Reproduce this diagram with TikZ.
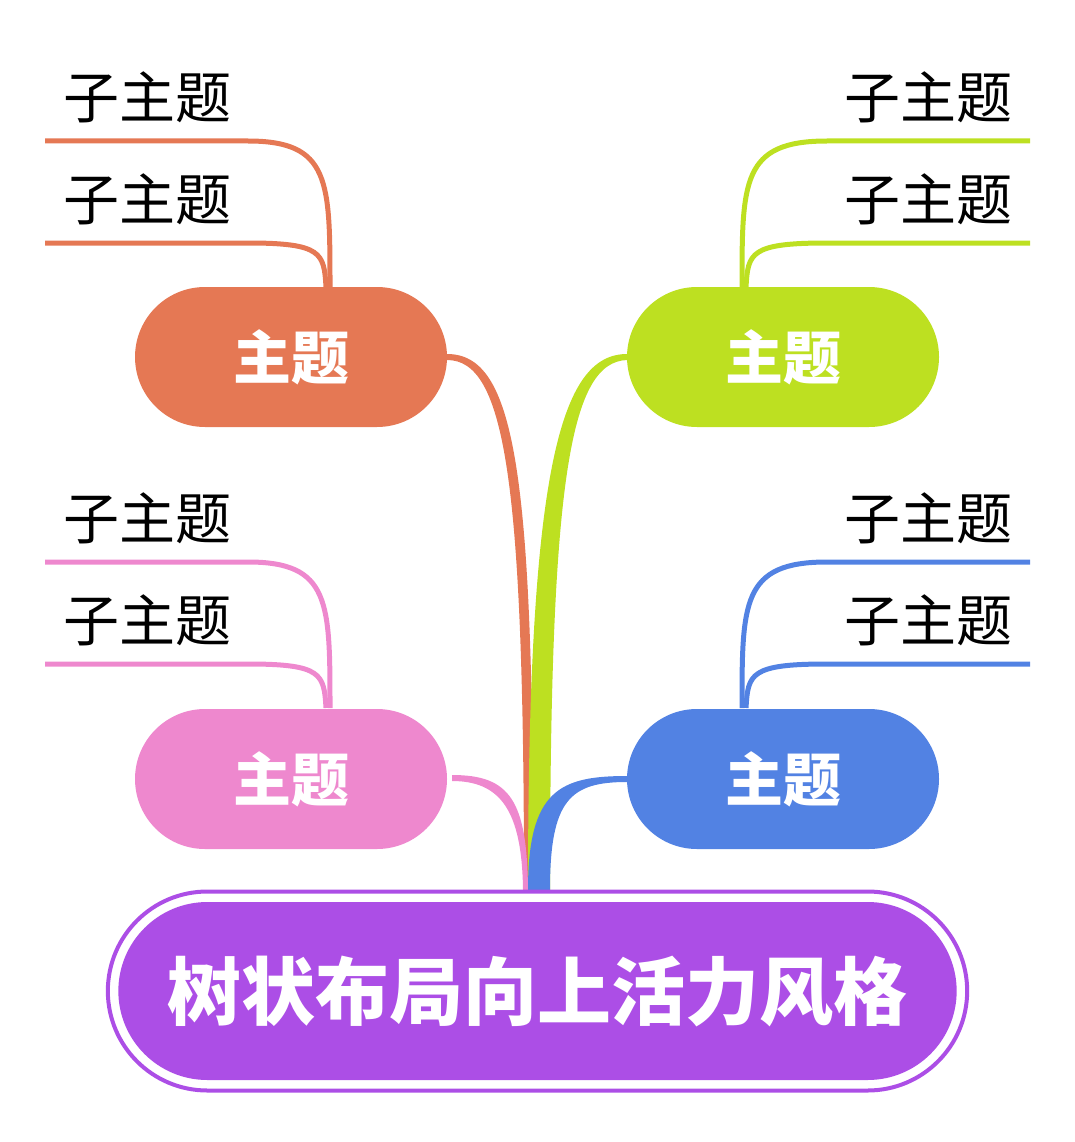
\documentclass[tikz,border=0pt]{standalone}
\usepackage{fontspec}
\newfontfamily\cjk{Noto Sans CJK SC}
\newfontfamily\cjkb{Noto Sans CJK SC Bold}
\definecolor{cor}{HTML}{E57854}
\definecolor{cgr}{HTML}{BDE021}
\definecolor{cpk}{HTML}{EE88CE}
\definecolor{cbl}{HTML}{5282E3}
\definecolor{cpu}{HTML}{AC4EE6}
\tikzset{
 topic/.style={rounded rectangle, minimum width=312pt, minimum height=140pt, inner sep=0pt, text=white, font=\cjk\bfseries\fontsize{58}{60}\selectfont},
 sub/.style={inner sep=0pt, font=\cjk\fontsize{56}{58}\selectfont},
 sline/.style={line width=5pt}
}
\usetikzlibrary{shapes.misc}
\begin{document}
\begin{tikzpicture}[x=1pt,y=-1pt]
\useasboundingbox (0,0) rectangle (1075,1142);
% tapered branches
\fill[cor] (447,354) .. controls (515,354) and (534,470) .. (533,890) -- (524,890) .. controls (524,480) and (505,360) .. (447,360) -- cycle;
\fill[cgr] (627,354) .. controls (560,354) and (528,470) .. (528,890) -- (550,890) .. controls (550,480) and (570,362) .. (627,360) -- cycle;
\fill[cpk] (452,775) .. controls (510,775) and (527,800) .. (528,890) -- (523,890) .. controls (522,810) and (500,781) .. (452,781) -- cycle;
\fill[cbl] (627,776) .. controls (560,776) and (528,790) .. (528,890) -- (550,890) .. controls (550,800) and (570,782) .. (627,782) -- cycle;
% topics
\node[topic, fill=cor] (t1) at (291,357) {主题};
\node[topic, fill=cgr] (t2) at (783,357) {主题};
\node[topic, fill=cpk] (t3) at (291,779) {主题};
\node[topic, fill=cbl] (t4) at (783,779) {主题};
% root
\node[rounded rectangle, draw=cpu, line width=4pt, minimum width=866pt, minimum height=199pt] (rootout) at (537.5,991) {};
\node[rounded rectangle, fill=cpu, minimum width=845pt, minimum height=178pt, text=white, font=\cjk\bfseries\fontsize{74}{76}\selectfont] (root) at (537.5,991) {树状布局向上活力风格};
% subtopics
\foreach \cx/\c/\lx/\rx/\tx/\ya/\yb/\anc in {330/cor/45/248/147/141/243/t1, 330/cpk/45/248/147/562/664/t3}{
 \node[sub] at (\tx,\ya-44) {子主题};
 \node[sub] at (\tx,\yb-44) {子主题};
 \coordinate (a) at (\lx,\ya); \coordinate (b) at (\rx,\ya);
 \draw[sline,\c] (a) -- (b) .. controls (\cx,\ya) and (\cx,\ya+40) .. (\cx,\ya+146);
 \coordinate (a) at (\lx,\yb); \coordinate (b) at (\rx,\yb);
 \draw[sline,\c] (a) -- (b) .. controls (\cx-8,\yb) and (\cx-6,\yb+10) .. (\cx-4,\yb+44);
}
\foreach \cx/\c/\lx/\rx/\tx/\ya/\yb in {742/cgr/1030/827/928/141/243, 742/cbl/1030/827/928/562/664}{
 \node[sub] at (\tx,\ya-44) {子主题};
 \node[sub] at (\tx,\yb-44) {子主题};
 \coordinate (a) at (\lx,\ya); \coordinate (b) at (\rx,\ya);
 \draw[sline,\c] (a) -- (b) .. controls (\cx,\ya) and (\cx,\ya+40) .. (\cx,\ya+146);
 \coordinate (a) at (\lx,\yb); \coordinate (b) at (\rx,\yb);
 \draw[sline,\c] (a) -- (b) .. controls (\cx+8,\yb) and (\cx+6,\yb+10) .. (\cx+4,\yb+44);
}
\end{tikzpicture}
\end{document}
